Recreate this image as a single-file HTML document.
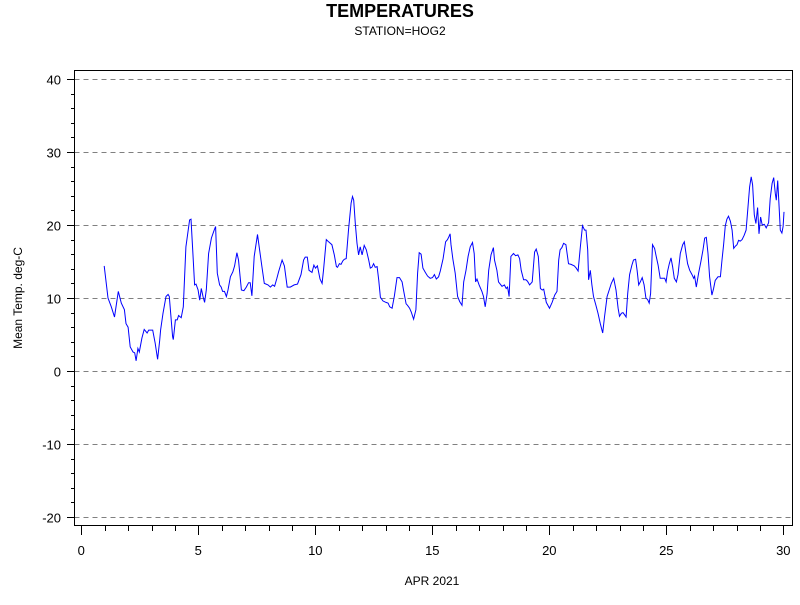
<!DOCTYPE html>
<html><head><meta charset="utf-8"><style>
body{margin:0;background:#fff;}
svg text{font-family:"Liberation Sans",sans-serif;}
</style></head><body>
<svg id="chart" width="800" height="600" viewBox="0 0 800 600" xmlns="http://www.w3.org/2000/svg">
<rect width="800" height="600" fill="#fff"/>
<text x="400" y="17" text-anchor="middle" font-size="18" font-weight="bold">TEMPERATURES</text>
<text x="400" y="35" text-anchor="middle" font-size="12">STATION=HOG2</text>
<text transform="translate(22,298) rotate(-90)" text-anchor="middle" font-size="12">Mean Temp. deg-C</text>
<text x="432" y="585" text-anchor="middle" font-size="12">APR 2021</text>
<g id="grid"></g>
<g id="axes"></g>
<path id="line" fill="none" stroke="#0000ff" stroke-width="1"/>
<rect x="74.5" y="70.5" width="718" height="455" fill="none" stroke="#000" stroke-width="1"/>
</svg>
<script>
const yTicks=[-20,-10,0,10,20,30,40];
const xTicks=[0,5,10,15,20,25,30];
const days=[0.98,1.14,1.28,1.42,1.58,1.71,1.84,1.91,2.00,2.09,2.21,2.28,2.34,2.42,2.48,2.59,2.69,2.81,2.88,3.05,3.16,3.26,3.35,3.39,3.49,3.62,3.71,3.76,3.90,3.93,4.02,4.10,4.16,4.27,4.36,4.47,4.63,4.69,4.76,4.84,4.90,4.99,5.06,5.13,5.20,5.27,5.34,5.44,5.56,5.68,5.74,5.81,5.91,5.98,6.04,6.12,6.20,6.27,6.37,6.48,6.55,6.65,6.72,6.84,6.95,7.05,7.15,7.22,7.29,7.39,7.53,7.61,7.72,7.82,7.98,8.08,8.18,8.26,8.36,8.43,8.58,8.68,8.80,8.93,9.10,9.24,9.39,9.50,9.57,9.66,9.73,9.86,9.94,10.01,10.09,10.20,10.29,10.35,10.47,10.57,10.71,10.81,10.90,10.95,11.03,11.10,11.18,11.24,11.32,11.42,11.53,11.59,11.64,11.71,11.78,11.85,11.92,12.00,12.09,12.18,12.28,12.35,12.42,12.49,12.56,12.64,12.71,12.78,12.89,13.02,13.11,13.18,13.28,13.38,13.49,13.60,13.71,13.77,13.88,13.94,14.03,14.10,14.20,14.30,14.37,14.44,14.52,14.60,14.70,14.80,14.91,15.01,15.09,15.17,15.27,15.34,15.46,15.57,15.65,15.71,15.76,15.80,15.88,15.98,16.08,16.17,16.27,16.34,16.44,16.53,16.62,16.72,16.79,16.85,16.91,17.00,17.12,17.19,17.26,17.34,17.41,17.51,17.61,17.66,17.76,17.83,17.98,18.08,18.16,18.22,18.28,18.36,18.47,18.56,18.66,18.73,18.80,18.90,19.00,19.07,19.16,19.27,19.37,19.44,19.53,19.62,19.70,19.76,19.87,20.01,20.12,20.23,20.33,20.40,20.46,20.54,20.61,20.71,20.82,20.93,21.07,21.15,21.23,21.32,21.42,21.51,21.57,21.64,21.68,21.75,21.82,21.89,22.00,22.08,22.18,22.28,22.36,22.47,22.56,22.65,22.75,22.85,22.94,23.00,23.08,23.15,23.22,23.28,23.35,23.43,23.53,23.60,23.69,23.75,23.82,23.89,23.97,24.05,24.13,24.20,24.27,24.33,24.41,24.50,24.57,24.65,24.74,24.84,24.93,24.99,25.05,25.13,25.20,25.27,25.34,25.43,25.50,25.60,25.70,25.77,25.84,25.91,26.00,26.10,26.17,26.21,26.28,26.38,26.48,26.57,26.64,26.71,26.78,26.85,26.95,27.02,27.09,27.21,27.31,27.38,27.45,27.52,27.59,27.66,27.74,27.81,27.88,27.95,28.02,28.09,28.16,28.24,28.33,28.41,28.49,28.56,28.63,28.69,28.76,28.83,28.90,28.96,29.03,29.10,29.19,29.27,29.37,29.44,29.52,29.59,29.66,29.70,29.76,29.82,29.87,29.94,29.99,30.03];
const temps=[14.4,10.0,8.8,7.4,10.9,9.3,8.4,6.5,6.0,3.3,2.6,2.5,1.4,3.1,2.6,4.5,5.7,5.2,5.6,5.6,3.8,1.6,4.2,5.6,7.9,10.2,10.5,10.2,4.7,4.3,7.0,7.0,7.6,7.3,8.8,17.0,20.7,20.8,16.6,11.8,11.9,11.1,9.7,11.3,10.2,9.4,11.1,16.1,18.2,19.3,19.8,13.4,11.8,11.5,10.9,10.9,10.2,11.1,12.9,13.6,14.4,16.2,15.2,11.1,11.0,11.5,12.1,12.1,10.3,15.7,18.7,16.8,14.3,12.0,11.8,11.5,11.8,11.6,12.7,13.6,15.2,14.4,11.5,11.5,11.8,11.9,13.2,15.2,15.6,15.6,13.8,13.5,14.5,14.1,14.4,12.6,12.0,13.8,18.0,17.7,17.3,15.9,14.3,14.2,14.7,14.6,15.1,15.3,15.4,19.3,23.0,23.9,23.4,20.2,17.5,15.9,17.0,15.9,17.2,16.6,15.2,14.1,14.2,14.7,14.2,14.3,12.5,10.1,9.6,9.4,9.3,8.8,8.6,10.3,12.8,12.8,12.2,11.1,9.2,9.0,8.6,8.1,7.1,8.4,13.4,16.2,16.0,14.1,13.5,13.0,12.7,12.8,13.2,12.6,12.9,13.7,15.4,17.7,18.0,18.4,18.8,17.3,15.3,13.4,10.2,9.5,9.0,12.2,13.8,15.7,17.0,17.6,16.1,12.2,12.6,11.8,10.9,10.2,8.8,10.6,13.8,15.9,16.9,15.2,13.8,12.2,11.6,11.8,11.3,11.5,10.2,15.7,16.1,15.8,15.9,15.4,13.8,12.5,12.5,12.3,11.8,12.2,16.3,16.7,15.7,11.3,11.1,11.2,9.4,8.6,9.4,10.4,10.9,15.2,16.6,16.9,17.5,17.3,14.7,14.6,14.4,14.1,13.7,16.8,19.9,19.3,19.3,16.6,12.5,13.8,11.8,10.2,8.9,7.9,6.5,5.2,7.4,10.2,11.1,12.0,12.7,11.1,8.6,7.5,7.9,8.0,7.7,7.4,10.6,13.2,14.5,15.2,15.3,13.8,11.8,12.2,12.8,11.8,10.0,9.8,9.3,10.6,17.3,16.8,15.7,14.5,12.7,12.7,12.7,12.2,13.6,14.7,15.5,14.3,12.7,12.2,13.2,16.1,17.3,17.7,16.1,14.7,13.8,13.2,12.7,13.0,11.5,13.4,15.0,16.6,18.2,18.3,16.1,12.9,10.4,11.3,12.4,12.9,12.9,15.2,17.3,19.9,20.8,21.2,20.5,19.3,16.8,17.1,17.3,17.9,17.8,18.0,18.6,19.3,22.5,25.2,26.6,25.5,21.4,20.2,22.4,18.8,21.1,20.0,20.1,19.6,20.3,23.6,25.7,26.5,24.3,23.4,26.1,22.5,19.3,18.9,19.8,21.8];
const X0=74.5,X1=792.5,Y0=70.5,Y1=525.5;
function sx(d){return 81.3+(d-0)*(198.3-81.3)/5;}
function sy(t){return 371+(0-t)*7.3;}
const NS='http://www.w3.org/2000/svg';
const grid=document.getElementById('grid'),axes=document.getElementById('axes');
function mk(tag,attrs,parent){const e=document.createElementNS(NS,tag);for(const k in attrs)e.setAttribute(k,attrs[k]);parent.appendChild(e);return e;}
for(let v=-20;v<=40;v+=2){
  const y=Math.round(sy(v))+0.5;const major=v%10===0;
  const t=mk('line',{x1:major?67:71,x2:X0,y1:y,y2:y,stroke:'#000'},axes);
  
  
}
yTicks.forEach(v=>{
  const y=Math.round(sy(v))+0.5;
  const g=mk('line',{x1:X0,x2:X1,y1:y,y2:y,stroke:'#808080','stroke-dasharray':'5,4'},grid);
  
  
  const t=mk('text',{x:61,y:y+5,'text-anchor':'end','font-size':'13'},axes);t.textContent=v;
  
  
});
for(let d=0;d<=30;d++){
  const x=Math.round(sx(d))+0.5;const major=d%5===0;
  const t=mk('line',{x1:x,x2:x,y1:Y1,y2:major?535:531,stroke:'#000'},axes);
  
  
}
xTicks.forEach(d=>{
  const t=mk('text',{x:sx(d),y:555,'text-anchor':'middle','font-size':'13'},axes);t.textContent=d;
  
  
});
let p='';days.forEach((d,i)=>{p+=(i?'L':'M')+sx(d).toFixed(1)+','+sy(temps[i]).toFixed(1);});
document.getElementById('line').setAttribute('d',p);
</script>
</body></html>
